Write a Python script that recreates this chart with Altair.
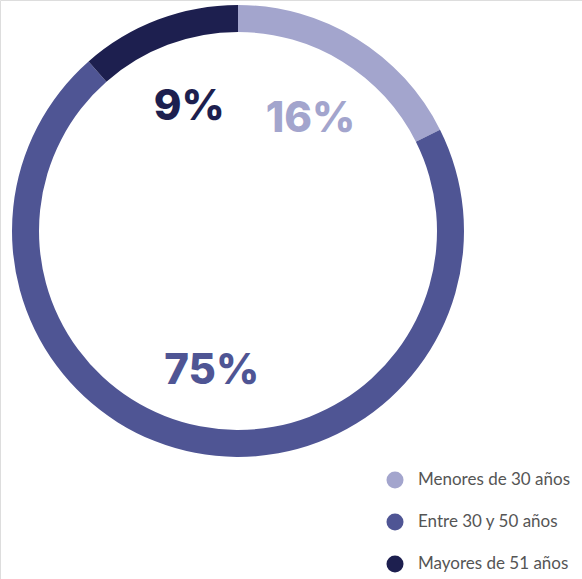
import altair as alt
import pandas as pd

categories = ["Menores de 30 años", "Entre 30 y 50 años", "Mayores de 51 años"]
shares = [17.6, 70.9, 11.5]
labels = ["16%", "75%", "9%"]
colors = ["#a3a5cd", "#4f5594", "#1d1f4f"]

df = pd.DataFrame({
    "cat": categories,
    "share": shares,
    "label": labels,
    "order": list(range(len(categories))),
})

color = alt.Color(
    "cat:N",
    scale=alt.Scale(domain=categories, range=colors),
    sort=None,
    legend=alt.Legend(
        title=None,
        orient="none",
        legendX=386,
        legendY=471,
        symbolType="circle",
        symbolSize=290,
        symbolStrokeWidth=0,
        labelFontSize=17,
        labelFont="Lato",
        labelColor="#555555",
        labelOffset=14,
        rowPadding=24,
        labelLimit=300,
    ),
)

base = alt.Chart(df).encode(
    theta=alt.Theta("share:Q", stack=True),
    order=alt.Order("order:Q"),
    x=alt.value(238),
    y=alt.value(231),
)

arcs = base.mark_arc(outerRadius=226, innerRadius=199, stroke=None).encode(color=color)

text = base.mark_text(
    radius=138, dy=5, font="Inter", fontSize=42, fontWeight=800, baseline="middle", align="center"
).encode(
    text="label:N",
    color=alt.Color("cat:N", scale=alt.Scale(domain=categories, range=colors), legend=None),
)

chart = (
    alt.layer(arcs, text)
    .properties(width=582, height=579, padding=0, autosize=alt.AutoSizeParams(type="none"))
    .configure_view(stroke=None)
    .configure(background="white")
)

chart.save("out.html", embed_options={"renderer": "svg", "actions": False})
